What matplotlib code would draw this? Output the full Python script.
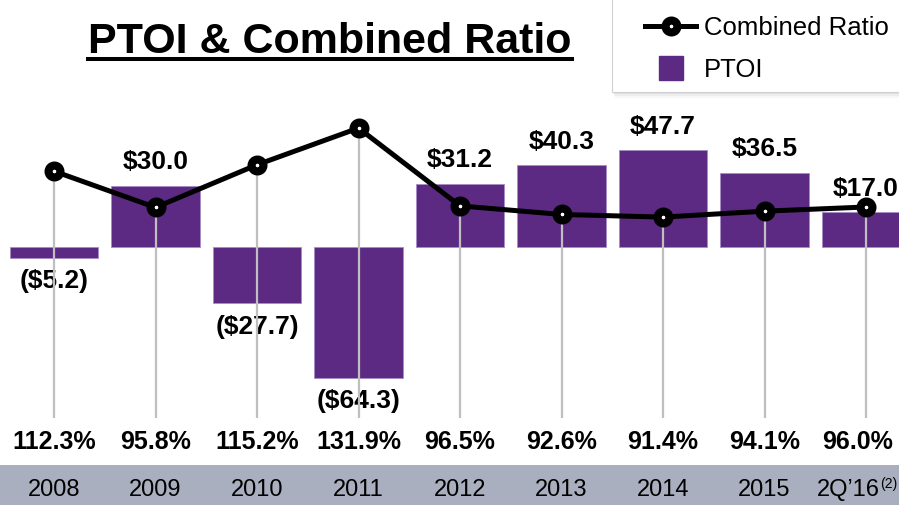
import matplotlib.pyplot as plt
from matplotlib.lines import Line2D
from matplotlib.patches import Rectangle

plt.rcParams['font.family'] = ['Liberation Sans', 'DejaVu Sans']

# data
years = ['2008', '2009', '2010', '2011', '2012', '2013', '2014', '2015',
         '2Q\u201916']
year_notes = ['', '', '', '', '', '', '', '', '(2)']
ptoi = [-5.2, 30.0, -27.7, -64.3, 31.2, 40.3, 47.7, 36.5, 17.0]
combined = [112.3, 95.8, 115.2, 131.9, 96.5, 92.6, 91.4, 94.1, 96.0]

purple = '#5C2A82'
W, H = 899, 505

fig = plt.figure(figsize=(W / 100, H / 100), dpi=100)
ax = fig.add_axes([0, 0, 1, 1])
ax.set_axis_off()

x = list(range(len(years)))
# layout in pixels: first bar at 54px, 101.5px apart; PTOI zero at 247px
step = 101.5
ax.set_xlim(-54 / step, (W - 54) / step)
ax.set_ylim(-(H - 247) / 2.03, 247 / 2.03)

ax.bar(x, ptoi, width=0.87, color=purple, edgecolor='#A68CC6',
       linewidth=0.6, zorder=2)
for xi, v in zip(x, ptoi):
    if v >= 0:
        ax.annotate(f'${v:.1f}', (xi, v), xytext=(0, 17),
                    textcoords='offset points', ha='center', va='center',
                    fontsize=19, fontweight='bold', zorder=5)
    else:
        ax.annotate(f'(${-v:.1f})', (xi, v), xytext=(0, -17),
                    textcoords='offset points', ha='center', va='center',
                    fontsize=19, fontweight='bold', zorder=5)

# bottom band with years
ax.add_patch(Rectangle((0, 0), 1, (H - 465) / H, transform=ax.transAxes,
                       facecolor='#A9AFBE', edgecolor='none', zorder=1))
xt = ax.get_xaxis_transform()
for xi, yr, note in zip(x, years, year_notes):
    if note:
        # last label is shifted left so the footnote fits
        ax.annotate(yr, (xi, 0.03), xycoords=xt, xytext=(10, 0),
                    textcoords='offset points', ha='right', va='center',
                    fontsize=17)
        ax.annotate(note, (xi, 0.03), xycoords=xt, xytext=(10.5, 4),
                    textcoords='offset points', ha='left', va='center',
                    fontsize=10)
    else:
        ax.text(xi, 0.03, yr, transform=xt, ha='center', va='center',
                fontsize=17)

# combined ratio on its own scale (0 at 418px, 2.198px per point)
ax2 = ax.twinx()
ax2.set_axis_off()
ax2.set_ylim(-(H - 418) / 2.198, 418 / 2.198)
ax2.vlines(x, 0, combined, color='#BFBFBF', lw=1.6, zorder=1)
ax2.plot(x, combined, color='black', lw=3.6, marker='o', ms=8.6,
         mew=5.8, mfc='white', mec='black', zorder=3)
for i, (xi, v) in enumerate(zip(x, combined)):
    dx = -6 if i == len(x) - 1 else 0
    ax2.annotate(f'{v:.1f}%', (xi, 0), xytext=(dx, -17),
                 textcoords='offset points', ha='center', va='center',
                 fontsize=18, fontweight='bold')

# title with underline
t = fig.text(330 / W, 1 - 53 / H, 'PTOI & Combined Ratio', ha='center',
             va='baseline', fontsize=31, fontweight='bold')
fig.canvas.draw()
bb = t.get_window_extent()
fig.add_artist(Line2D([bb.x0 / W, bb.x1 / W], [1 - 59 / H, 1 - 59 / H],
                      transform=fig.transFigure, color='black', lw=2.9))

# legend box with soft shadow
for k, a in [(6, 0.06), (4, 0.08), (2, 0.12)]:
    fig.add_artist(Rectangle(((612 + k * 0.5) / W, 1 - (92 + k) / H), 0.5, 0.5,
                             transform=fig.transFigure, facecolor='#808080',
                             edgecolor='none', alpha=a))
fig.add_artist(Rectangle((612 / W, 1 - 92 / H), 0.5, 0.5,
                         transform=fig.transFigure, facecolor='white',
                         edgecolor='#D0D0D0', lw=0.8))

handles = [Line2D([], [], color='black', lw=3.6, marker='o', ms=8.6,
                  mew=5.8, mfc='white', mec='black'),
           Line2D([], [], ls='none', marker='s', ms=17, color=purple)]
fig.legend(handles, ['Combined Ratio', 'PTOI'], loc='upper left',
           bbox_to_anchor=(645 / W, 1 - 16 / H), frameon=False, fontsize=18.5,
           borderpad=0, borderaxespad=0, handlelength=2.0,
           handletextpad=0.3, labelspacing=0.7)

fig.savefig('out.png', dpi=100)
